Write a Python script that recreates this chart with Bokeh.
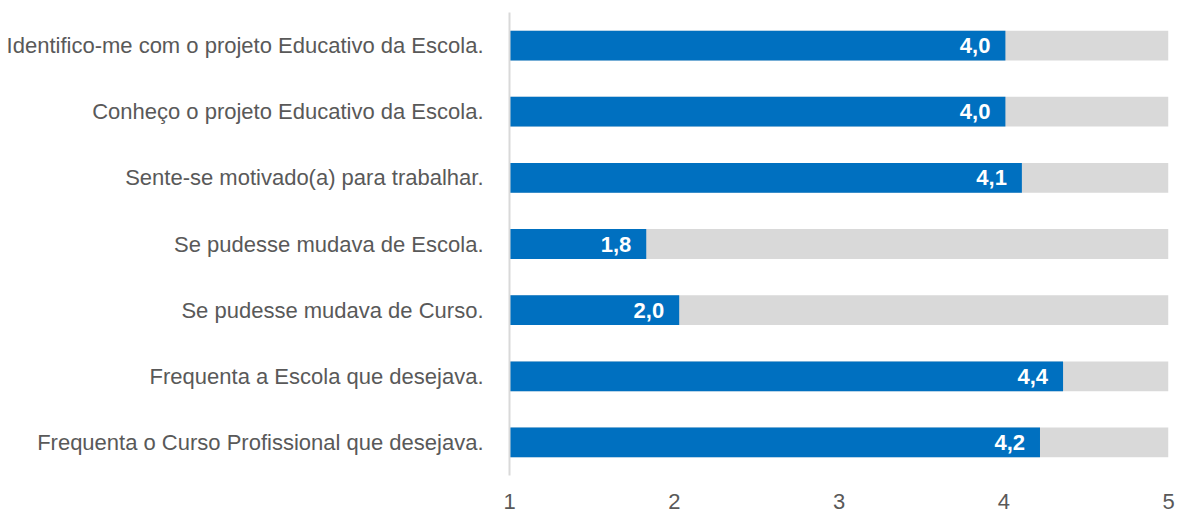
from bokeh.plotting import figure
from bokeh.models import ColumnDataSource, FixedTicker, Range1d
from bokeh.core.properties import value
from bokeh.embed import file_html
from bokeh.resources import INLINE

categories = [
    "Identifico-me com o projeto Educativo da Escola.",
    "Conheço o projeto Educativo da Escola.",
    "Sente-se motivado(a) para trabalhar.",
    "Se pudesse mudava de Escola.",
    "Se pudesse mudava de Curso.",
    "Frequenta a Escola que desejava.",
    "Frequenta o Curso Profissional que desejava.",
]
values = [4.01, 4.01, 4.11, 1.83, 2.03, 4.36, 4.22]
scale_min = 1
scale_max = 5
ticks = [1, 2, 3, 4, 5]

labels = [f"{v:.1f}".replace(".", ",") for v in values]

src = ColumnDataSource(dict(
    cat=categories,
    val=values,
    lo=[scale_min] * len(values),
    hi=[scale_max] * len(values),
    lab=labels,
))

p = figure(
    width=1178, height=512,
    y_range=list(reversed(categories)),
    x_range=Range1d(scale_min, scale_max),
    output_backend="svg", toolbar_location=None,
    min_border_left=509, min_border_right=10, min_border_top=12, min_border_bottom=37,
)

p.hbar(y="cat", left="lo", right="hi", height=0.45, source=src,
       fill_color="#D9D9D9", line_color=None)
p.hbar(y="cat", left="lo", right="val", height=0.45, source=src,
       fill_color="#0070C0", line_color=None)
p.text(x="val", y="cat", text="lab", source=src, x_offset=-15,
       text_align="right", text_baseline="middle", text_color="white",
       text_font=value("Liberation Sans Narrow, Liberation Sans"),
       text_font_style="bold", text_font_size="22px")

p.outline_line_color = None
p.grid.grid_line_color = None

p.xaxis.ticker = FixedTicker(ticks=ticks)
p.xaxis.axis_line_color = None
p.xaxis.major_tick_line_color = None
p.xaxis.minor_tick_line_color = None
p.xaxis.major_label_text_font = "Liberation Sans"
p.xaxis.major_label_text_font_size = "22px"
p.xaxis.major_label_text_color = "#595959"
p.xaxis.major_label_standoff = 12

p.yaxis.axis_line_color = "#D9D9D9"
p.yaxis.axis_line_width = 2
p.yaxis.major_tick_line_color = None
p.yaxis.minor_tick_line_color = None
p.yaxis.major_label_text_font = "Liberation Sans"
p.yaxis.major_label_text_font_size = "22px"
p.yaxis.major_label_text_color = "#595959"
p.yaxis.major_label_standoff = 20

open("out.html", "w").write(file_html(p, INLINE))
